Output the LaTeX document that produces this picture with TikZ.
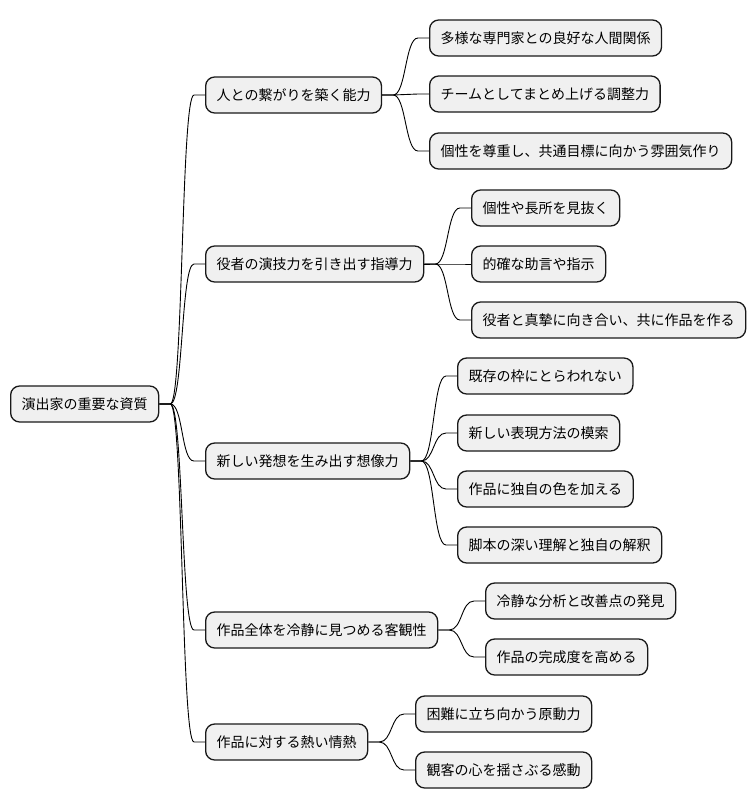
\documentclass[tikz,border=0pt]{standalone}
\usepackage{fontspec}
\setmainfont{Noto Sans CJK JP}
\begin{document}
\begin{tikzpicture}[x=1pt,y=-1pt,
  box/.style={draw=black!90,line width=1.3pt,fill=black!6,rounded corners=9pt,
    minimum height=36pt,inner xsep=11pt,anchor=west,font=\fontsize{14}{16}\selectfont},
  edge/.style={draw=black,line width=0.9pt}]
\useasboundingbox (0,0) rectangle (754,809);
\node[box] (r) at (10,404) {演出家の重要な資質};
\node[box] (a) at (205,95) {人との繋がりを築く能力};
\node[box] (b) at (205,264) {役者の演技力を引き出す指導力};
\node[box] (c) at (205,461) {新しい発想を生み出す想像力};
\node[box] (d) at (205,630) {作品全体を冷静に見つめる客観性};
\node[box] (e) at (205,742) {作品に対する熱い情熱};
\node[box] (a1) at (429,38) {多様な専門家との良好な人間関係};
\node[box] (a2) at (429,94) {チームとしてまとめ上げる調整力};
\node[box] (a3) at (429,151) {個性を尊重し、共通目標に向かう雰囲気作り};
\node[box] (b1) at (471,208) {個性や長所を見抜く};
\node[box] (b2) at (471,264) {的確な助言や指示};
\node[box] (b3) at (471,320) {役者と真摯に向き合い、共に作品を作る};
\node[box] (c1) at (457,376) {既存の枠にとらわれない};
\node[box] (c2) at (457,433) {新しい表現方法の模索};
\node[box] (c3) at (457,489) {作品に独自の色を加える};
\node[box] (c4) at (457,545) {脚本の深い理解と独自の解釈};
\node[box] (d1) at (485,601) {冷静な分析と改善点の発見};
\node[box] (d2) at (485,657) {作品の完成度を高める};
\node[box] (e1) at (415,714) {困難に立ち向かう原動力};
\node[box] (e2) at (415,770) {観客の心を揺さぶる感動};
\foreach \p/\c in {r/a,r/b,r/c,r/d,r/e,a/a1,a/a2,a/a3,b/b1,b/b2,b/b3,c/c1,c/c2,c/c3,c/c4,d/d1,d/d2,e/e1,e/e2}
  \draw[edge] (\p.east) -- ++(11,0) .. controls +(13,0) and +(-13,0) .. ([xshift=-11pt]\c.west) -- (\c.west);
\end{tikzpicture}
\end{document}
